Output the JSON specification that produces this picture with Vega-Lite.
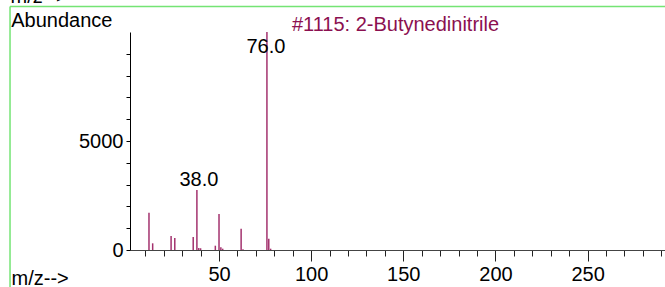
{
  "$schema": "https://vega.github.io/schema/vega-lite/v6.json",
  "width": 535,
  "height": 218,
  "autosize": "none",
  "padding": {"left": 130, "top": 32, "right": 0, "bottom": 37},
  "background": "white",
  "config": {"view": {"stroke": null}, "font": "Liberation Sans"},
  "title": {
    "text": "#1115: 2-Butynedinitrile",
    "color": "#8B1050",
    "fontSize": 20,
    "fontWeight": "normal",
    "font": "Liberation Sans",
    "anchor": "middle",
    "frame": "group",
    "baseline": "alphabetic",
    "offset": 3,
    "dx": -2,
    "dy": 67
  },
  "datasets": {
    "peaks": [
      {"mz": 12, "abundance": 1711},
      {"mz": 14, "abundance": 307},
      {"mz": 24, "abundance": 642},
      {"mz": 26, "abundance": 550},
      {"mz": 36, "abundance": 596},
      {"mz": 38, "abundance": 2752},
      {"mz": 39, "abundance": 90},
      {"mz": 40, "abundance": 80},
      {"mz": 48, "abundance": 197},
      {"mz": 50, "abundance": 1651},
      {"mz": 51, "abundance": 122},
      {"mz": 52, "abundance": 60},
      {"mz": 62, "abundance": 977},
      {"mz": 63, "abundance": 30},
      {"mz": 76, "abundance": 9999},
      {"mz": 77, "abundance": 518},
      {"mz": 78, "abundance": 60}
    ],
    "frame": [
      {"x1": -63.4, "x2": -63.4, "y1": 11170, "y2": -2000},
      {"x1": -63.4, "x2": 300, "y1": 11170, "y2": 11170}
    ],
    "cut": [
      {"x": -63.1, "y": 11330, "label": "m/z-->"}
    ]
  },
  "layer": [
    {
      "data": {"name": "peaks"},
      "mark": {"type": "rule", "color": "#a3326e", "strokeWidth": 1.5},
      "encoding": {
        "x": {
          "field": "mz", "type": "quantitative",
          "scale": {"domain": [1.7, 292], "nice": false, "zero": false},
          "axis": {
            "orient": "bottom",
            "values": [10, 20, 30, 40, 50, 60, 70, 80, 90, 100, 110, 120, 130, 140, 150, 160, 170, 180, 190, 200, 210, 220, 230, 240, 250, 260, 270, 280, 290],
            "tickCount": 100,
            "labelExpr": "datum.value % 50 == 0 ? datum.label : ''",
            "tickSize": {"condition": {"test": "datum.value % 50 == 0", "value": 11}, "value": 6},
            "labelPadding": 3,
            "labelFontSize": 20,
            "labelColor": "black",
            "labelFlush": false,
            "labelOverlap": false,
            "domain": true,
            "domainColor": "#444444",
            "domainWidth": 1.2,
            "ticks": true,
            "tickColor": "#222222",
            "grid": false,
            "title": "m/z-->",
            "titleFontSize": 20,
            "titleFontWeight": "normal",
            "titleColor": "black",
            "titleAlign": "left",
            "titleBaseline": "alphabetic",
            "titleAngle": 0,
            "titleX": -119,
            "titleY": 34
          }
        },
        "y": {
          "field": "abundance", "type": "quantitative",
          "scale": {"domain": [0, 10000], "nice": false, "zero": true},
          "axis": {
            "orient": "left",
            "values": [0, 1000, 2000, 3000, 4000, 5000, 6000, 7000, 8000, 9000],
            "tickCount": 100,
            "labelExpr": "datum.value % 5000 == 0 ? datum.label : ''",
            "format": "d",
            "tickSize": 4,
            "labelPadding": 3,
            "labelFontSize": 20,
            "labelColor": "black",
            "labelFlush": false,
            "labelOverlap": false,
            "domainColor": "black",
            "tickColor": "black",
            "grid": false,
            "title": "Abundance",
            "titleFontSize": 20,
            "titleFontWeight": "normal",
            "titleColor": "black",
            "titleAlign": "left",
            "titleBaseline": "alphabetic",
            "titleAngle": 0,
            "titleX": -119.3,
            "titleY": -6
          }
        },
        "y2": {"datum": 0}
      }
    },
    {
      "data": {"name": "peaks"},
      "transform": [{"filter": "datum.mz == 38"}],
      "mark": {"type": "text", "fontSize": 20, "color": "black", "baseline": "alphabetic", "align": "center", "dy": -4, "dx": 2},
      "encoding": {
        "x": {"field": "mz", "type": "quantitative"},
        "y": {"field": "abundance", "type": "quantitative"},
        "text": {"field": "mz", "type": "quantitative", "format": ".1f"}
      }
    },
    {
      "data": {"name": "peaks"},
      "transform": [{"filter": "datum.mz == 76"}],
      "mark": {"type": "text", "fontSize": 20, "color": "black", "baseline": "alphabetic", "align": "center", "dy": 21, "dx": -1},
      "encoding": {
        "x": {"field": "mz", "type": "quantitative"},
        "y": {"field": "abundance", "type": "quantitative"},
        "text": {"field": "mz", "type": "quantitative", "format": ".1f"}
      }
    },
    {
      "data": {"name": "frame"},
      "mark": {"type": "rule", "color": "#74e474", "strokeWidth": 1.5},
      "encoding": {
        "x": {"field": "x1", "type": "quantitative"},
        "x2": {"field": "x2"},
        "y": {"field": "y1", "type": "quantitative"},
        "y2": {"field": "y2"}
      }
    },
    {
      "data": {"name": "cut"},
      "mark": {"type": "text", "fontSize": 20, "color": "black", "baseline": "alphabetic", "align": "left"},
      "encoding": {
        "x": {"field": "x", "type": "quantitative"},
        "y": {"field": "y", "type": "quantitative"},
        "text": {"field": "label"}
      }
    }
  ]
}
